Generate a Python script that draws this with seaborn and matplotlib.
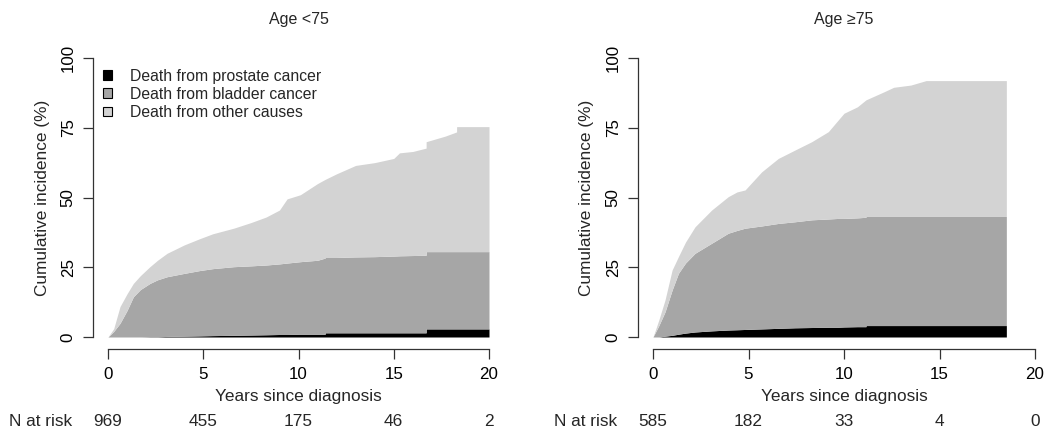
import numpy as np
import matplotlib
matplotlib.use("Agg")
import matplotlib.pyplot as plt
import matplotlib.transforms as mtransforms
from matplotlib.patches import Patch
import seaborn as sns

# ---------------- data ----------------
panel_titles = ["Age <75", "Age \u226575"]
cause_labels = ["Death from prostate cancer", "Death from bladder cancer", "Death from other causes"]
cause_colors = ["#000000", "#A6A6A6", "#D3D3D3"]

# Age <75 : times (years) and stacked tops (%)
t_young = [0, 0.3, 0.63, 1.0, 1.33, 1.7, 2.2, 2.6, 3.1, 4.0, 4.8, 5.5, 6.6, 7.5, 8.3, 9.0, 9.4,
           10.1, 11.0, 11.4, 11.4, 12.0, 13.0, 14.0, 15.0, 15.3, 16.0, 16.7, 16.7, 17.7, 18.3, 18.3, 20.0]
prostate_young = [0, 0, 0, 0, 0, 0, 0.1, 0.1, 0.2, 0.3, 0.4, 0.5, 0.6, 0.7, 0.8, 0.9, 0.9,
                  1.0, 1.0, 1.0, 1.5, 1.5, 1.5, 1.5, 1.5, 1.5, 1.5, 1.5, 2.9, 2.9, 2.9, 2.9, 2.9]
bladder_top_young = [0, 2, 4.9, 9.5, 14.4, 17, 19.2, 20.5, 21.6, 22.8, 23.8, 24.5, 25.2, 25.5, 25.8, 26.2, 26.5,
                     27, 27.5, 28.3, 28.5, 28.5, 28.7, 28.8, 29.0, 29.1, 29.2, 29.3, 30.6, 30.6, 30.6, 30.6, 30.6]
total_young = [0, 3, 10.9, 15.5, 19.2, 22, 25.2, 27.5, 30, 33, 35.2, 37, 39, 41, 43, 45.5, 49.5,
               51, 55, 56.5, 56.5, 58.5, 61.5, 62.5, 64, 66, 66.5, 67.7, 70, 72, 73.5, 75.4, 75.4]

# Age >=75
t_old = [0, 0.3, 0.63, 1.0, 1.33, 1.7, 2.2, 3.07, 3.94, 4.4, 4.82, 5.69, 6.56, 7.43, 8.31, 9.18, 9.7,
         10.0, 10.7, 11.15, 11.15, 12.1, 12.6, 13.5, 14.3, 18.5]
prostate_old = [0, 0, 0.3, 0.6, 1.0, 1.4, 1.8, 2.2, 2.5, 2.6, 2.7, 2.9, 3.1, 3.3, 3.4, 3.5, 3.5,
                3.6, 3.7, 3.7, 4.1, 4.1, 4.1, 4.1, 4.1, 4.1]
bladder_top_old = [0, 4, 9, 16.8, 22.8, 26.5, 30, 33.6, 37.2, 38.2, 39, 39.8, 40.7, 41.3, 42, 42.3, 42.5,
                   42.5, 42.7, 42.9, 43.2, 43.2, 43.2, 43.2, 43.2, 43.2]
total_old = [0, 6, 13.3, 24, 28.8, 34, 39.5, 45.5, 50.3, 52, 52.7, 59.2, 64, 67, 70, 73.6, 77.8,
             80.2, 82.5, 85, 85, 87.9, 89.5, 90.3, 91.9, 91.9]

x_ticks = [0, 5, 10, 15, 20]
y_ticks = [0, 25, 50, 75, 100]
n_at_risk_young = [969, 455, 175, 46, 2]
n_at_risk_old = [585, 182, 33, 4, 0]

panels = [
    (t_young, prostate_young, bladder_top_young, total_young, n_at_risk_young),
    (t_old, prostate_old, bladder_top_old, total_old, n_at_risk_old),
]

# ---------------- style ----------------
sns.set_style("ticks")
plt.rcParams["font.family"] = ["Liberation Sans", "DejaVu Sans"]
axis_color = "#333333"

fig = plt.figure(figsize=(10.48, 4.28), dpi=100)
W, H = 1048, 428
axes_px = [(108, 58, 381, 279), (653, 58, 382, 279)]  # left, top, width, height in px

for i, (t, p, bt, tot, nrisk) in enumerate(panels):
    l, tp, w, h = axes_px[i]
    ax = fig.add_axes([l / W, 1 - (tp + h) / H, w / W, h / H])
    t = np.asarray(t, float)
    p = np.asarray(p, float)
    bt = np.asarray(bt, float)
    tot = np.asarray(tot, float)
    ax.fill_between(t, 0, p, color=cause_colors[0], lw=0)
    ax.fill_between(t, p, bt, color=cause_colors[1], lw=0)
    ax.fill_between(t, bt, tot, color=cause_colors[2], lw=0)

    ax.set_xlim(0, 20)
    ax.set_ylim(0, 100)
    ax.set_xticks(x_ticks)
    ax.set_yticks(y_ticks)
    sns.despine(ax=ax, offset={"left": 10.8, "bottom": 8.6}, trim=True)
    ax.tick_params(axis="both", direction="out", length=7, width=0.9, color=axis_color,
                   labelsize=12.2, labelcolor="black")
    ax.tick_params(axis="x", pad=6)
    ax.tick_params(axis="y", pad=5.4, labelrotation=90)
    for lab in ax.get_yticklabels():
        lab.set_verticalalignment("center")
    for s in ("left", "bottom"):
        ax.spines[s].set_color(axis_color)
        ax.spines[s].set_linewidth(0.9)

    ax.set_xlabel("Years since diagnosis", fontsize=12.4)
    ax.xaxis.set_label_coords(0.5, (337 - 397) / 279)
    ax.xaxis.label.set_verticalalignment("center")
    ax.set_ylabel("Cumulative incidence (%)", fontsize=12.4)
    ylab_px = 43 if i == 0 else 587
    ax.yaxis.set_label_coords((ylab_px - l) / w, 0.5)
    ax.yaxis.label.set_verticalalignment("center")

    ax.set_title(panel_titles[i], fontsize=11.5, y=1 + (58 - 19) / 279, pad=0, va="center")

    trans = mtransforms.blended_transform_factory(ax.transData, fig.transFigure)
    ybase = 1 - 426 / H
    ax.text(-1.9, ybase, "N at risk", transform=trans, ha="right", va="baseline", fontsize=12.4)
    for xv, n in zip(x_ticks, nrisk):
        ax.text(xv, ybase, str(n), transform=trans, ha="center", va="baseline", fontsize=12.4)

    if i == 0:
        handles = [Patch(facecolor=c, edgecolor="black", linewidth=0.8) for c in cause_colors]
        ax.legend(handles, cause_labels, loc="upper left", bbox_to_anchor=(-0.012, 0.962),
                  frameon=False, fontsize=11.3, handlelength=0.55, handleheight=0.55,
                  handletextpad=1.15, labelspacing=0.2, borderpad=0, borderaxespad=0)

fig.savefig("out.png", dpi=100)
